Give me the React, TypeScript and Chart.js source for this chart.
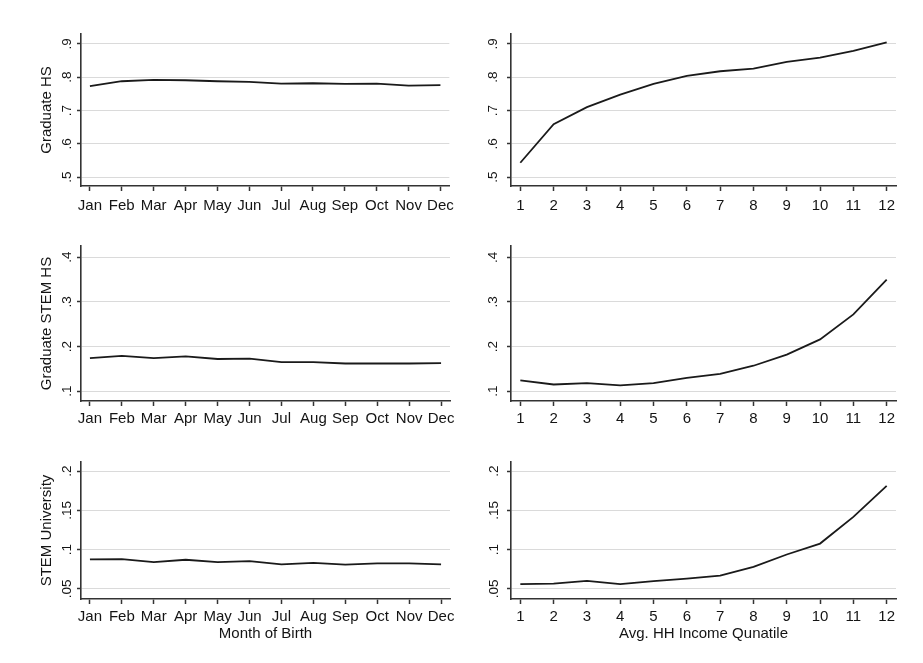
import React, { useEffect, useRef } from 'react';
import { Chart, registerables } from 'chart.js';

Chart.register(...registerables);

// ---------- data ----------
const monthLabels = ['Jan', 'Feb', 'Mar', 'Apr', 'May', 'Jun', 'Jul', 'Aug', 'Sep', 'Oct', 'Nov', 'Dec'];
const quantileLabels = ['1', '2', '3', '4', '5', '6', '7', '8', '9', '10', '11', '12'];

const gradHSByMonth = [0.773, 0.788, 0.792, 0.791, 0.788, 0.786, 0.781, 0.782, 0.780, 0.781, 0.775, 0.776];
const gradHSByIncome = [0.543, 0.659, 0.710, 0.748, 0.780, 0.804, 0.818, 0.826, 0.846, 0.859, 0.879, 0.905];

const stemHSByMonth = [0.174, 0.179, 0.174, 0.178, 0.172, 0.173, 0.165, 0.165, 0.162, 0.162, 0.162, 0.163];
const stemHSByIncome = [0.124, 0.115, 0.118, 0.113, 0.118, 0.130, 0.139, 0.157, 0.182, 0.216, 0.272, 0.350];

const stemUniByMonth = [0.0874, 0.0878, 0.0840, 0.0870, 0.0840, 0.0853, 0.0810, 0.0830, 0.0807, 0.0824, 0.0824, 0.0810];
const stemUniByIncome = [0.0559, 0.0567, 0.0600, 0.0559, 0.0597, 0.0630, 0.0668, 0.0780, 0.0937, 0.1076, 0.1416, 0.1810];

const yTicksGradHS = [0.5, 0.6, 0.7, 0.8, 0.9];
const yTicksStemHS = [0.1, 0.2, 0.3, 0.4];
const yTicksStemUni = [0.05, 0.1, 0.15, 0.2];

const yTitles = ['Graduate HS', 'Graduate STEM HS', 'STEM University'];
const xTitles = ['Month of Birth', 'Avg. HH Income Qunatile'];

// ---------- styling ----------
const FONT = 'Liberation Sans, Arial, Helvetica, sans-serif';
const TEXT = '#141414';
const AXIS = '#333333';
const GRID = '#dadada';
const LINE = '#1a1a1a';

type PanelSpec = {
  left: number; top: number; width: number; height: number;
  values: number[]; labels: string[];
  yTicks: number[]; yMin: number; yMax: number;
  yTitle?: string; xTitle?: string;
  yWidth: number; padRight: number; padTop: number; xHeight: number;
  yPad: number; xPad: number;
};

const fmt = (v: number) => {
  const s = String(Math.round(v * 1000) / 1000);
  return s.replace(/^0\./, '.');
};

function Panel({ spec }: { spec: PanelSpec }) {
  const ref = useRef<HTMLCanvasElement | null>(null);
  useEffect(() => {
    if (!ref.current) return;
    const s = spec;
    const chart = new Chart(ref.current, {
      type: 'line',
      data: {
        datasets: [{
          data: s.values.map((v, i) => ({ x: i + 1, y: v })),
          borderColor: LINE,
          borderWidth: 1.8,
          pointRadius: 0,
          tension: 0,
          fill: false,
        }],
      },
      options: {
        animation: false,
        responsive: false,
        maintainAspectRatio: false,
        devicePixelRatio: 1,
        layout: { padding: { left: 0, right: s.padRight, top: s.padTop, bottom: 0 } },
        plugins: { legend: { display: false }, tooltip: { enabled: false } },
        scales: {
          x: {
            type: 'linear',
            min: 0.72,
            max: 12.28,
            afterBuildTicks: (sc: any) => { sc.ticks = s.labels.map((_, i) => ({ value: i + 1 })); },
            afterFit: (sc: any) => { sc.height = s.xHeight; },
            ticks: {
              autoSkip: false,
              maxRotation: 0,
              minRotation: 0,
              padding: s.xPad,
              color: TEXT,
              font: { family: FONT, size: 15 },
              callback: (v: any) => s.labels[Math.round(Number(v)) - 1] ?? '',
            },
            grid: { drawOnChartArea: false, drawTicks: true, tickLength: 5, tickColor: AXIS, tickWidth: 1.5 },
            border: { display: true, color: AXIS, width: 1.6 },
            title: {
              display: !!s.xTitle,
              text: s.xTitle || '',
              color: TEXT,
              font: { family: FONT, size: 15 },
              padding: { top: 0, bottom: 20 },
            },
          },
          y: {
            type: 'linear',
            min: s.yMin,
            max: s.yMax,
            afterBuildTicks: (sc: any) => { sc.ticks = s.yTicks.map((v) => ({ value: v })); },
            afterFit: (sc: any) => { sc.width = s.yWidth; },
            ticks: {
              minRotation: 90,
              maxRotation: 90,
              crossAlign: 'center',
              padding: s.yPad,
              color: TEXT,
              font: { family: FONT, size: 13.5 },
              callback: (v: any) => fmt(Number(v)),
            },
            grid: { color: GRID, lineWidth: 1, tickLength: 4, tickColor: AXIS, tickWidth: 1.5 },
            border: { display: true, color: AXIS, width: 1.6 },
            title: {
              display: !!s.yTitle,
              text: s.yTitle || '',
              color: TEXT,
              font: { family: FONT, size: 15 },
              padding: { top: 38, bottom: 0 },
            },
          },
        },
      } as any,
    });
    return () => chart.destroy();
  }, [spec]);
  return (
    <div style={{ position: 'absolute', left: spec.left, top: spec.top, width: spec.width, height: spec.height }}>
      <canvas ref={ref} width={spec.width} height={spec.height} style={{ width: spec.width, height: spec.height, display: 'block' }} />
    </div>
  );
}

const panels: PanelSpec[] = [
  // top row
  { left: 0, top: 0, width: 460, height: 230, values: gradHSByMonth, labels: monthLabels, yTicks: yTicksGradHS, yMin: 0.473, yMax: 0.930,
    yTitle: yTitles[0], yWidth: 81, padRight: 10, padTop: 34, xHeight: 44, yPad: 4, xPad: 6 },
  { left: 460, top: 0, width: 463, height: 230, values: gradHSByIncome, labels: quantileLabels, yTicks: yTicksGradHS, yMin: 0.473, yMax: 0.930,
    yWidth: 51, padRight: 27, padTop: 34, xHeight: 44, yPad: 8, xPad: 6 },
  // middle row
  { left: 0, top: 230, width: 460, height: 210, values: stemHSByMonth, labels: monthLabels, yTicks: yTicksStemHS, yMin: 0.078, yMax: 0.425,
    yTitle: yTitles[1], yWidth: 81, padRight: 10, padTop: 16, xHeight: 39, yPad: 4, xPad: 4 },
  { left: 460, top: 230, width: 463, height: 210, values: stemHSByIncome, labels: quantileLabels, yTicks: yTicksStemHS, yMin: 0.078, yMax: 0.425,
    yWidth: 51, padRight: 27, padTop: 16, xHeight: 39, yPad: 8, xPad: 4 },
  // bottom row
  { left: 0, top: 440, width: 460, height: 223, values: stemUniByMonth, labels: monthLabels, yTicks: yTicksStemUni, yMin: 0.037, yMax: 0.2115,
    yTitle: yTitles[2], xTitle: xTitles[0], yWidth: 81, padRight: 10, padTop: 22, xHeight: 64, yPad: 0, xPad: 4 },
  { left: 460, top: 440, width: 463, height: 223, values: stemUniByIncome, labels: quantileLabels, yTicks: yTicksStemUni, yMin: 0.037, yMax: 0.2115,
    xTitle: xTitles[1], yWidth: 51, padRight: 27, padTop: 22, xHeight: 64, yPad: 3, xPad: 4 },
];

export default function App() {
  return (
    <div style={{ position: 'fixed', left: 0, top: 0, width: 923, height: 663, background: '#ffffff', overflow: 'hidden' }}>
      {panels.map((p, i) => <Panel key={i} spec={p} />)}
    </div>
  );
}
